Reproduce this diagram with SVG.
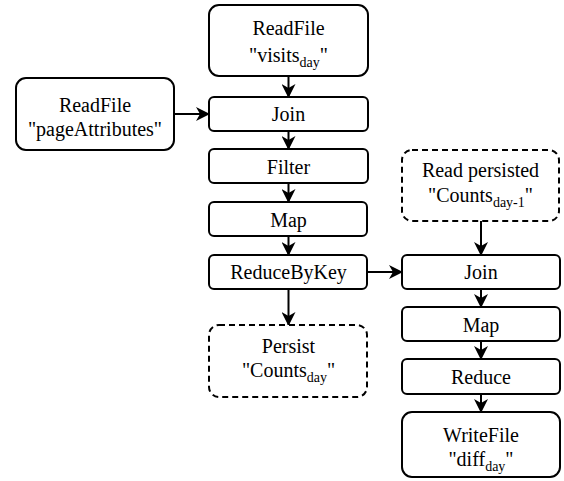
<svg xmlns="http://www.w3.org/2000/svg" width="564" height="481" viewBox="0 0 564 481">
<style>
.b{fill:#fff;stroke:#000;stroke-width:2}
.d{fill:#fff;stroke:#000;stroke-width:2;stroke-dasharray:6 4}
text{font-family:"Liberation Serif","Times New Roman",serif;font-size:20px;fill:#000;text-anchor:middle}
.s{font-size:14px}
.c{stroke:#000;stroke-width:2;fill:none;marker-end:url(#a)}
</style>
<defs>
<marker id="a" markerWidth="14" markerHeight="14" refX="13" refY="7" orient="auto" markerUnits="userSpaceOnUse">
<path d="M0,0 L14,7 L0,14 L4,7 z" fill="#000"/>
</marker>
</defs>
<rect width="564" height="481" fill="#fff"/>
<g id="connectors">
<path class="c" d="M288.5,76 V97"/>
<path class="c" d="M174,114 H209"/>
<path class="c" d="M288.5,131 V149"/>
<path class="c" d="M288.5,183 V202"/>
<path class="c" d="M288.5,236 V255"/>
<path class="c" d="M288.5,289 V325"/>
<path class="c" d="M367,272 H402"/>
<path class="c" d="M481,221 V255"/>
<path class="c" d="M481,289 V307"/>
<path class="c" d="M481,341 V359"/>
<path class="c" d="M481,394 V412"/>
</g>
<g id="readVisits">
<rect class="b" x="209" y="5" width="159" height="71" rx="10"/>
<text x="288.5" y="35">ReadFile</text>
<text x="288.5" y="62">"visits<tspan class="s" dy="5">day</tspan><tspan dy="-5">"</tspan></text>
</g>
<g id="readPage">
<rect class="b" x="16" y="78" width="158" height="72" rx="10"/>
<text x="95" y="112">ReadFile</text>
<text x="95" y="136">"pageAttributes"</text>
</g>
<g id="join1">
<rect class="b" x="209" y="97" width="159" height="34" rx="5"/>
<text x="288.5" y="121">Join</text>
</g>
<g id="filter">
<rect class="b" x="209" y="149" width="159" height="34" rx="5"/>
<text x="288.5" y="174">Filter</text>
</g>
<g id="map1">
<rect class="b" x="209" y="202" width="158" height="34" rx="5"/>
<text x="288.5" y="227">Map</text>
</g>
<g id="reduceByKey">
<rect class="b" x="209" y="255" width="158" height="34" rx="5"/>
<text x="288.5" y="279">ReduceByKey</text>
</g>
<g id="persist">
<rect class="d" x="209" y="325" width="158" height="72" rx="10"/>
<text x="288.5" y="353">Persist</text>
<text x="288.5" y="377">"Counts<tspan class="s" dy="5">day</tspan><tspan dy="-5">"</tspan></text>
</g>
<g id="readPersisted">
<rect class="d" x="402" y="150" width="157" height="71" rx="10"/>
<text x="480.5" y="177">Read persisted</text>
<text x="480.5" y="202">"Counts<tspan class="s" dy="5">day-1</tspan><tspan dy="-5">"</tspan></text>
</g>
<g id="join2">
<rect class="b" x="402" y="255" width="158" height="34" rx="5"/>
<text x="481" y="279">Join</text>
</g>
<g id="map2">
<rect class="b" x="402" y="307" width="158" height="34" rx="5"/>
<text x="481" y="332">Map</text>
</g>
<g id="reduce">
<rect class="b" x="402" y="359" width="158" height="35" rx="5"/>
<text x="481" y="384">Reduce</text>
</g>
<g id="writeFile">
<rect class="b" x="402" y="412" width="158" height="65" rx="10"/>
<text x="481" y="442">WriteFile</text>
<text x="481" y="466">"diff<tspan class="s" dy="5">day</tspan><tspan dy="-5">"</tspan></text>
</g>
</svg>
